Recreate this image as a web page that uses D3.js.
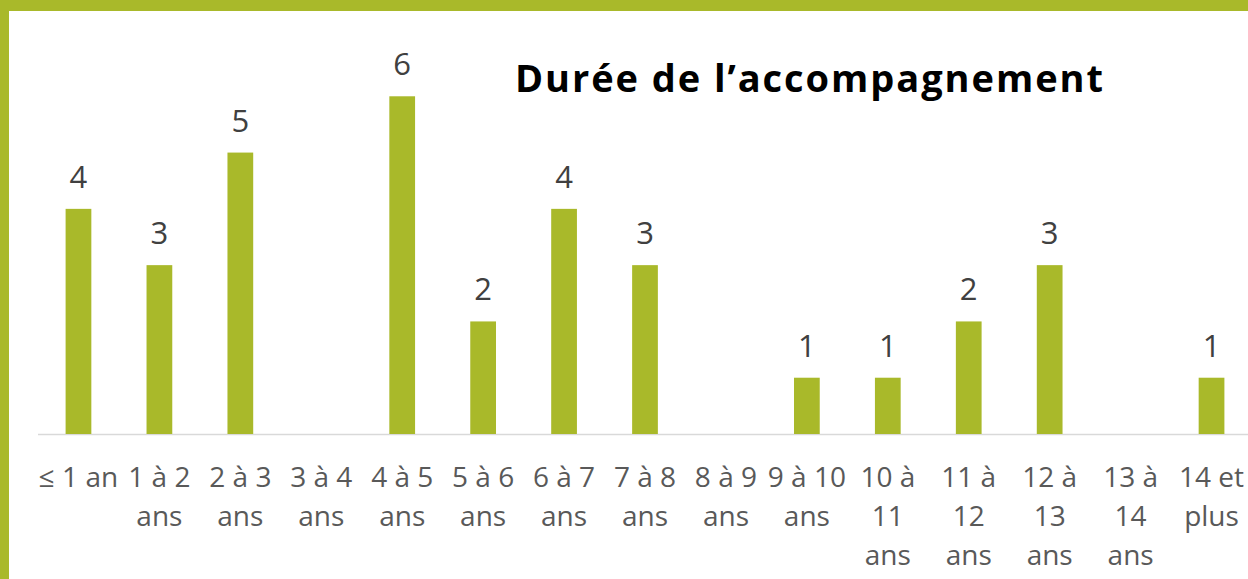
<!DOCTYPE html>
<html>
<head>
<meta charset="utf-8">
<script src="https://cdn.jsdelivr.net/npm/d3@7"></script>
<style>
    body { margin: 0; background: #ffffff; }
    #chart-area { width: 1248px; height: 579px; }
    .cat-label { font-family: "Open Sans", sans-serif; font-size: 28px; fill: #595959; }
    .value-label { font-family: "Open Sans", sans-serif; font-size: 31px; fill: #404040; }
    .title text { font-family: "Open Sans", sans-serif; font-weight: bold; font-size: 38px; fill: #000000; }
</style>
</head>
<body>
<div id="chart-area"></div>
<script>

// data
let categories = ["≤ 1 an", "1 à 2 ans", "2 à 3 ans", "3 à 4 ans", "4 à 5 ans", "5 à 6 ans",
    "6 à 7 ans", "7 à 8 ans", "8 à 9 ans", "9 à 10 ans", "10 à 11 ans", "11 à 12 ans",
    "12 à 13 ans", "13 à 14 ans", "14 et plus"];

// how the category labels wrap under each bar
let categoryLines = [["≤ 1 an"], ["1 à 2", "ans"], ["2 à 3", "ans"], ["3 à 4", "ans"], ["4 à 5", "ans"],
    ["5 à 6", "ans"], ["6 à 7", "ans"], ["7 à 8", "ans"], ["8 à 9", "ans"], ["9 à 10", "ans"],
    ["10 à", "11", "ans"], ["11 à", "12", "ans"], ["12 à", "13", "ans"], ["13 à", "14", "ans"],
    ["14 et", "plus"]];

// empty cells have no bar and no label
let counts = [4, 3, 5, null, 6, 2, 4, 3, null, 1, 1, 2, 3, null, 1];

let chartTitle = "Durée de l’accompagnement";


/* * * * * * * * * * * * * *
*          BarVis          *
* * * * * * * * * * * * * */

class BarVis {

    constructor(parentElement, categories, lines, values) {
        this.parentElement = parentElement;
        this.categories = categories;
        this.lines = lines;
        this.values = values;

        this.initVis();
    }

    initVis() {
        let vis = this;

        vis.width = 1248;
        vis.height = 579;
        vis.color = "#a9b92a";

        vis.svg = d3.select("#" + vis.parentElement).append("svg")
            .attr("width", vis.width)
            .attr("height", vis.height);

        // green frame top and left
        vis.svg.append("rect")
            .attr("x", 0).attr("y", 0)
            .attr("width", vis.width).attr("height", 11)
            .attr("fill", vis.color);
        vis.svg.append("rect")
            .attr("x", 0).attr("y", 0)
            .attr("width", 9).attr("height", vis.height)
            .attr("fill", vis.color);

        // plot area runs a little past the right edge
        vis.x = d3.scaleBand()
            .domain(vis.categories)
            .range([38, 1252])
            .paddingInner(0.682)
            .paddingOuter(0.341);

        vis.y = d3.scaleLinear()
            .domain([0, 7])
            .range([434, 40]);

        // baseline
        vis.svg.append("line")
            .attr("x1", 38).attr("x2", vis.width)
            .attr("y1", vis.y(0) + 0.5).attr("y2", vis.y(0) + 0.5)
            .attr("stroke", "#d9d9d9")
            .attr("stroke-width", 1.5);

        // title
        vis.svg.append("g")
            .attr("class", "title")
            .append("text")
            .attr("x", 515)
            .attr("y", 92)
            .attr("textLength", 588)
            .attr("lengthAdjust", "spacing")
            .text(chartTitle);

        vis.wrangleData();
    }

    wrangleData() {
        let vis = this;

        vis.displayData = vis.categories.map((c, i) => ({
            category: c,
            lines: vis.lines[i],
            value: vis.values[i]
        }));

        vis.updateVis();
    }

    updateVis() {
        let vis = this;
        let withValue = vis.displayData.filter(d => d.value !== null);

        vis.svg.selectAll(".bar")
            .data(withValue)
            .enter().append("rect")
            .attr("class", "bar")
            .attr("x", d => vis.x(d.category))
            .attr("y", d => vis.y(d.value))
            .attr("width", vis.x.bandwidth())
            .attr("height", d => vis.y(0) - vis.y(d.value))
            .attr("fill", vis.color);

        vis.svg.selectAll(".value-label")
            .data(withValue)
            .enter().append("text")
            .attr("class", "value-label")
            .attr("x", d => vis.x(d.category) + vis.x.bandwidth() / 2)
            .attr("y", d => vis.y(d.value) - 21)
            .attr("text-anchor", "middle")
            .text(d => d.value);

        let cats = vis.svg.selectAll(".cat-label")
            .data(vis.displayData)
            .enter().append("text")
            .attr("class", "cat-label")
            .attr("text-anchor", "middle")
            .attr("transform", d => `translate(${vis.x(d.category) + vis.x.bandwidth() / 2}, 487)`);

        cats.selectAll("tspan")
            .data(d => d.lines)
            .enter().append("tspan")
            .attr("x", 0)
            .attr("y", (d, i) => i * 39)
            .text(d => d);
    }
}

new BarVis("chart-area", categories, categoryLines, counts);

</script>
</body>
</html>
